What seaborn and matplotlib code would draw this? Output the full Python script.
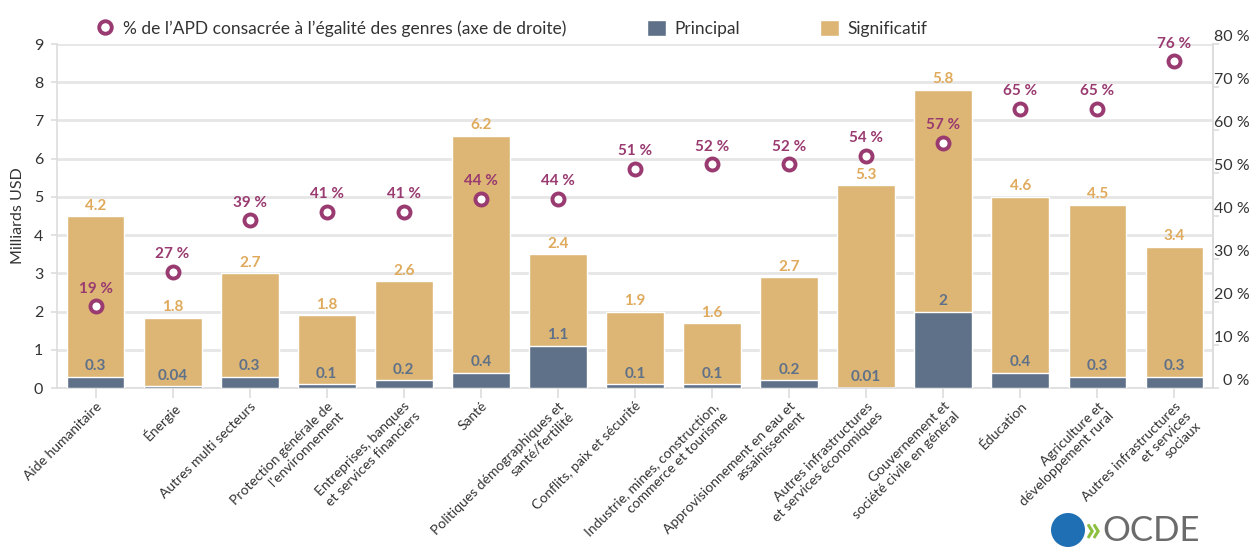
import numpy as np
import matplotlib
matplotlib.use("Agg")
import matplotlib.pyplot as plt
import seaborn as sns
from matplotlib.lines import Line2D
from matplotlib.patches import Patch, Ellipse

# ---------------- data ----------------
categories = [
    "Aide humanitaire",
    "Énergie",
    "Autres multi secteurs",
    "Protection générale de\nl'environnement",
    "Entreprises, banques\net services financiers",
    "Santé",
    "Politiques démographiques et\nsanté/fertilité",
    "Conflits, paix et sécurité",
    "Industrie, mines, construction,\ncommerce et tourisme",
    "Approvisionnement en eau et\nassainissement",
    "Autres infrastructures\net services économiques",
    "Gouvernement et\nsociété civile en général",
    "Éducation",
    "Agriculture et\ndéveloppement rural",
    "Autres infrastructures\net services\nsociaux",
]
principal = [0.3, 0.04, 0.3, 0.1, 0.2, 0.4, 1.1, 0.1, 0.1, 0.2, 0.01, 2.0, 0.4, 0.3, 0.3]
significatif = [4.2, 1.8, 2.7, 1.8, 2.6, 6.2, 2.4, 1.9, 1.6, 2.7, 5.3, 5.8, 4.6, 4.5, 3.4]
pct_gender = [19, 27, 39, 41, 41, 44, 44, 51, 52, 52, 54, 57, 65, 65, 76]
left_ticks = [0, 1, 2, 3, 4, 5, 6, 7, 8, 9]
right_ticks = [0, 10, 20, 30, 40, 50, 60, 70, 80]

# ---------------- style ----------------
sns.set_theme(style="white")
plt.rcParams["font.family"] = ["Lato", "DejaVu Sans"]

C_PRIN = "#5f7189"
C_SIG = "#ddb574"
C_SIG_TXT = "#dfaa5c"
C_PCT = "#993a70"
C_GRID = "#e6e6e6"
C_TXT = "#333333"

fig = plt.figure(figsize=(12.52, 5.47), dpi=100)
W, H = 1252, 547
ax = fig.add_axes([57 / W, 1 - 388 / H, (1213 - 57) / W, (388 - 44) / H])

x = np.arange(len(categories))
totals = [p + s for p, s in zip(principal, significatif)]

sns.barplot(x=x, y=totals, color=C_SIG, saturation=1, width=0.75,
            edgecolor="white", linewidth=1.0, ax=ax, zorder=2)
sns.barplot(x=x, y=principal, color=C_PRIN, saturation=1, width=0.75,
            edgecolor="white", linewidth=1.0, ax=ax, zorder=3)

ax.set_xlim(-0.5, len(categories) - 0.5)
ax.set_ylim(0, 9)
ax.set_yticks(left_ticks)
ax.set_yticklabels([str(t) for t in left_ticks], fontsize=11.5, color=C_TXT)
ax.yaxis.grid(True, color=C_GRID, linewidth=2.0, zorder=0)
ax.set_axisbelow(True)
ax.set_xticks(x)
ax.set_xticklabels(categories, rotation=45, ha="right", rotation_mode="anchor",
                   multialignment="right", fontsize=10, color=C_TXT,
                   linespacing=1.2)
ax.tick_params(axis="x", length=7, width=1.2, color="#dddddd", pad=1.5, bottom=True)
ax.tick_params(axis="y", length=4, width=1.2, color="#dddddd", pad=6, left=True)
ax.spines["top"].set_visible(False)
for s in ["left", "bottom", "right"]:
    ax.spines[s].set_color("#dddddd")
    ax.spines[s].set_linewidth(1.2)
ax.set_ylabel("Milliards USD", fontsize=11.5, color=C_TXT, labelpad=6)
ax.set_xlabel("")

# bar value labels
for xi, p, t, s in zip(x, principal, totals, significatif):
    ax.annotate(f"{p:g}", (xi, p), xytext=(0, 2.5), textcoords="offset points",
                ha="center", va="bottom", fontsize=11, fontweight="bold",
                color=C_PRIN, zorder=5)
    ax.annotate(f"{s:g}", (xi, t), xytext=(0, 2.5), textcoords="offset points",
                ha="center", va="bottom", fontsize=11, fontweight="bold",
                color=C_SIG_TXT, zorder=5)

# ---------------- right axis ----------------
ax2 = ax.twinx()
sns.scatterplot(x=x, y=pct_gender, ax=ax2, marker="o", s=75,
                facecolor="white", edgecolor=C_PCT, linewidth=2.8, zorder=6)
for xi, v in zip(x, pct_gender):
    ax2.annotate(f"{v} %", (xi, v), xytext=(0, 7.5), textcoords="offset points",
                 ha="center", va="bottom", fontsize=11, fontweight="bold",
                 color=C_PCT, zorder=7)
ax2.set_ylim(0, 80)
ax2.set_yticks(right_ticks)
ax2.set_yticklabels([f"{t} %" for t in right_ticks], fontsize=11.5, color=C_TXT,
                    va="bottom", ha="right")
ax2.tick_params(axis="y", length=4.5, width=1.2, color="#dddddd", pad=22, right=True)
ax2.grid(False)
for s in ["top", "left", "bottom"]:
    ax2.spines[s].set_visible(False)
ax2.spines["right"].set_color("#dddddd")
ax2.spines["right"].set_linewidth(1.2)
ax2.set_xlim(-0.5, len(categories) - 0.5)

# ---------------- legend ----------------
handles = [
    Line2D([], [], marker="o", linestyle="none", markersize=9,
           markerfacecolor="white", markeredgecolor=C_PCT, markeredgewidth=2.8,
           label="% de l’APD consacrée à l’égalité des genres (axe de droite)"),
    Patch(facecolor=C_PRIN, label="Principal"),
    Patch(facecolor=C_SIG, label="Significatif"),
]
fig.legend(handles=handles, loc="upper left", bbox_to_anchor=(80 / W, 1 - 4 / H),
           ncol=3, frameon=False, fontsize=12.5, columnspacing=4.6,
           handlelength=1.1, handletextpad=0.5, handleheight=1.1,
           labelcolor=C_TXT)

# ---------------- OCDE mark ----------------
fig.patches.append(Ellipse((1068 / W, 1 - 530 / H), 34 / W, 34 / H,
                           transform=fig.transFigure,
                           facecolor="#1f6fb4", edgecolor="none"))
fig.text(1085 / W, 1 - 531 / H, "»", fontsize=26, color="#8cbf3f",
         ha="left", va="center", fontweight="bold")
fig.text(1102 / W, 1 - 531 / H, "OCDE", fontsize=25, color="#6b6b6b",
         ha="left", va="center")

fig.savefig("out.png", dpi=100)
